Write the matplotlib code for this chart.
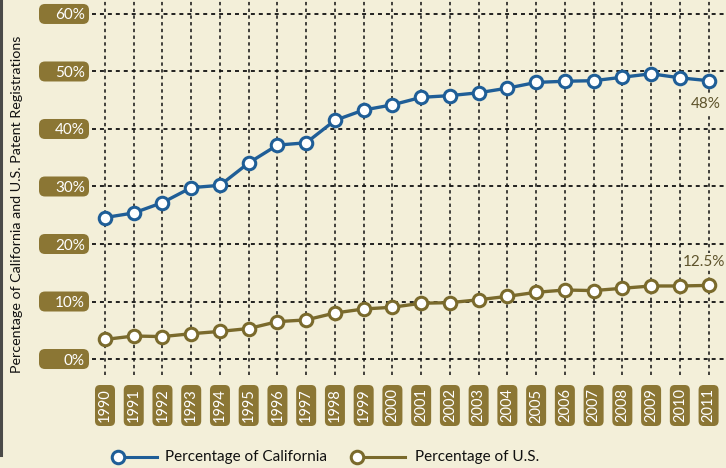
import numpy as np
import matplotlib.pyplot as plt
from matplotlib.patches import FancyBboxPatch
from matplotlib.lines import Line2D
from matplotlib.transforms import IdentityTransform

plt.rcParams['font.family'] = ['Lato', 'DejaVu Sans']

# Data
years = list(range(1990, 2012))
california = [24.6, 25.4, 27.2, 29.8, 30.2, 34.1, 37.2, 37.6, 41.5, 43.3, 44.2,
              45.5, 45.8, 46.3, 47.1, 48.1, 48.3, 48.4, 49.0, 49.6, 48.9, 48.4]
us = [3.4, 4.0, 3.9, 4.4, 4.8, 5.3, 6.5, 6.8, 8.0, 8.7, 9.0,
      9.7, 9.8, 10.3, 10.9, 11.6, 12.0, 11.9, 12.3, 12.7, 12.7, 12.8]
y_ticks = [0, 10, 20, 30, 40, 50, 60]
y_tick_labels = ['0%', '10%', '20%', '30%', '40%', '50%', '60%']
series_names = ['Percentage of California', 'Percentage of U.S.']
end_labels = ['48%', '12.5%']

BG = '#F3EFD9'
BLUE = '#1F5E97'
OLIVE = '#7A6A2C'
BOX = '#8B7634'
W, H = 726, 468

fig = plt.figure(figsize=(W / 100, H / 100), dpi=100, facecolor=BG)
ax = fig.add_axes([92 / W, 1 - 375 / H, 1 - 92 / W, 375 / H])
ax.set_facecolor(BG)
ax.set_xlim(1989.548, 2011.606)
ax.set_ylim(-2.78, 62.43)

# dashed grid
for yv in y_ticks:
    ax.axhline(yv, color='#111111', lw=1.3, ls=(0, (2.2, 2.2)), zorder=1)
for xv in years:
    ax.axvline(xv, color='#111111', lw=1.1, ls=(0, (2.2, 2.2)), zorder=1)

ax.plot(years, california, color=BLUE, lw=2.4, marker='o', ms=9,
        mfc='white', mec=BLUE, mew=2.2, zorder=3)
ax.plot(years, us, color=OLIVE, lw=2.4, marker='o', ms=9,
        mfc='white', mec=OLIVE, mew=2.2, zorder=3)

ax.set_xticks([])
ax.set_yticks([])
for s in ax.spines.values():
    s.set_visible(False)

lab_bbox = dict(boxstyle='square,pad=0.1', fc=BG, ec='none')
ax.text(years[-1] - 0.1, california[-1] - 2.9, end_labels[0], color='#5E532B',
        fontsize=11, ha='center', va='top', zorder=4, bbox=lab_bbox)
ax.text(2011.58, us[-1] + 2.9, end_labels[1], color='#5E532B',
        fontsize=11, ha='right', va='bottom', zorder=4, bbox=lab_bbox)

fig.canvas.draw()
ident = IdentityTransform()


def to_px(x, y):
    return ax.transData.transform((x, y))


# y tick label boxes
for yv, lab in zip(y_ticks, y_tick_labels):
    _, yd = to_px(years[0], yv)
    box = FancyBboxPatch((39, yd - 10), 50, 20,
                         boxstyle='round,pad=0,rounding_size=6',
                         fc=BOX, ec='none', transform=ident, figure=fig)
    fig.patches.append(box)
    fig.text(85 / W, yd / H, lab, color='white', fontsize=11,
             ha='right', va='center_baseline')

# year label boxes
for yr in years:
    xd, _ = to_px(yr, 0)
    box = FancyBboxPatch((xd - 10, H - 426), 20, 41,
                         boxstyle='round,pad=0,rounding_size=5',
                         fc=BOX, ec='none', transform=ident, figure=fig)
    fig.patches.append(box)
    fig.text(xd / W, (H - 405.5) / H, str(yr), color='white', fontsize=10.5,
             rotation=90, ha='center', va='center')

# left dark border
fig.add_artist(Line2D([1 / W, 1 / W], [1 - 455 / H, 1], color='#4A4A48', lw=2.2))

# y axis title
fig.text(17 / W, 1 - 204 / H, 'Percentage of California and U.S. Patent Registrations',
         rotation=90, ha='center', va='center', fontsize=10.3, color='#111111')

# legend
for (x0, x1, tx), col, name in zip([(118, 157, 165), (357, 405, 415)],
                                   [BLUE, OLIVE], series_names):
    fig.add_artist(Line2D([x0 / W, x1 / W], [1 - 457 / H] * 2, color=col, lw=2.2))
    fig.add_artist(Line2D([x0 / W], [1 - 457 / H], marker='o', ms=9, mfc='white',
                          mec=col, mew=2.2, ls='none'))
    fig.text(tx / W, 1 - 457 / H, name, fontsize=11, color='#111111',
             ha='left', va='center')

fig.savefig('out.png', dpi=100, facecolor=BG)
